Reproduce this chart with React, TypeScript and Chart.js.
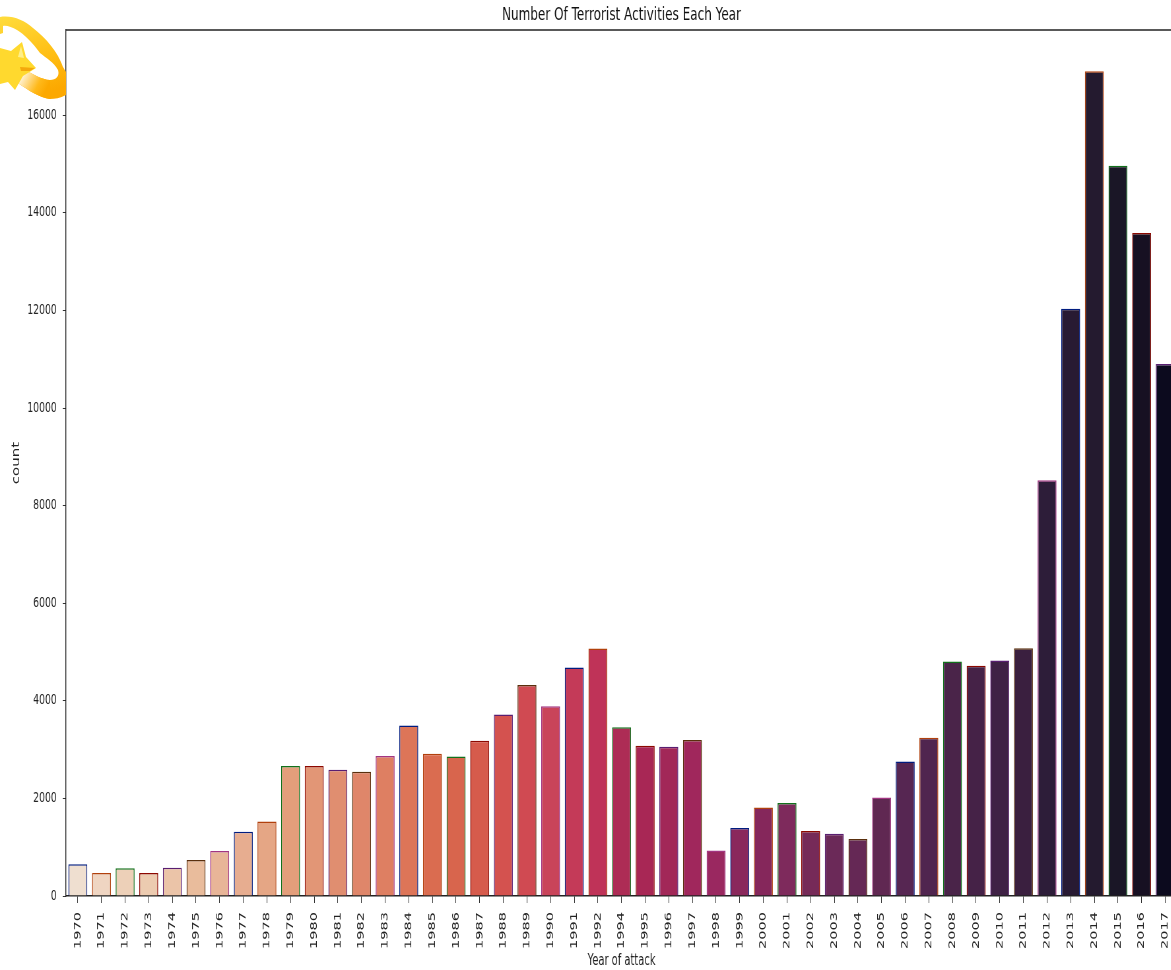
import React, { useEffect, useRef } from "react";
import { Chart, registerables } from "chart.js";

Chart.register(...registerables);

const years = ["1970","1971","1972","1973","1974","1975","1976","1977","1978","1979","1980","1981","1982","1983","1984","1985","1986","1987","1988","1989","1990","1991","1992","1994","1995","1996","1997","1998","1999","2000","2001","2002","2003","2004","2005","2006","2007","2008","2009","2010","2011","2012","2013","2014","2015","2016","2017"];
const counts = [651,471,568,473,581,740,923,1319,1526,2662,2662,2586,2544,2870,3495,2915,2860,3183,3721,4324,3887,4683,5071,3456,3081,3058,3197,931,1395,1814,1906,1333,1278,1166,2017,2758,3242,4805,4721,4826,5076,8522,12036,16903,14965,13587,10900];
const fills = ["#efdfd0","#efd5c2","#edd0b8","#eccbb0","#ebc4a8","#e9bc9c","#e8b598","#e7ad90","#e5a685","#e39e7b","#e29676","#e08e70","#df866a","#de7f62","#dd7558","#da6c50","#d8654d","#d65b4c","#d4524f","#d04a52","#c9445a","#c43a58","#bf3358","#ad2c55","#a82755","#a22858","#a0275c","#9a2860","#8a285c","#85275b","#7e2a5c","#762a58","#6b2958","#652855","#602852","#562652","#50254f","#4a2449","#452247","#3f2145","#3a1f3f","#2d1d39","#281a33","#241a2f","#1a1626","#171022","#0c0a1e"];
const edgeCycle = ["#001c7f","#b1400d","#12711c","#8c0800","#591e71","#592f0d","#a23582"];
const edges = years.map((_, i) => edgeCycle[i % edgeCycle.length]);
const yTicks = [0,2000,4000,6000,8000,10000,12000,14000,16000];

const SQUEEZE = 0.66;
const INNER_W = 1792;
const INNER_H = 970;

const frameLines = {
  id: "frameLines",
  afterDraw(chart: any) {
    const { ctx, chartArea: a } = chart;
    ctx.save();
    ctx.strokeStyle = "#222";
    ctx.lineWidth = 1.4;
    ctx.beginPath();
    ctx.moveTo(a.left, a.top);
    ctx.lineTo(a.right, a.top);
    ctx.stroke();
    ctx.restore();
  },
};

export default function App() {
  const ref = useRef<HTMLCanvasElement>(null);
  useEffect(() => {
    const chart = new Chart(ref.current as HTMLCanvasElement, {
      type: "bar",
      data: {
        labels: years,
        datasets: [{ data: counts, backgroundColor: fills, borderColor: edges, borderWidth: 1.5, categoryPercentage: 1, barPercentage: 0.8 }],
      },
      plugins: [frameLines],
      options: {
        responsive: false,
        animation: false,
        devicePixelRatio: 1,
        layout: { padding: 0, autoPadding: false },
        plugins: {
          legend: { display: false },
          tooltip: { enabled: false },
          title: {
            display: true,
            fullSize: false,
            text: "Number Of Terrorist Activities Each Year",
            color: "#111",
            font: { family: "DejaVu Sans", size: 18.2, weight: "normal" },
            padding: { top: 4.5, bottom: 3.7 },
          },
        },
        scales: {
          x: {
            grid: { display: true, drawOnChartArea: false, offset: false, tickLength: 7, color: "#333", tickColor: "#333" },
            border: { color: "#222", width: 1.4 },
            ticks: { minRotation: 90, maxRotation: 90, autoSkip: false, color: "#222", padding: 9, font: { family: "DejaVu Sans", size: 14.5 } },
            title: { display: true, text: "Year of attack", color: "#222", padding: { top: 0, bottom: 0 }, font: { family: "DejaVu Sans", size: 15 } },
            afterFit(s: any) { s.height = 74; },
          },
          y: {
            min: 0,
            max: 17746,
            grid: { display: true, drawOnChartArea: false, tickLength: 5, color: "#333", tickColor: "#333" },
            border: { color: "#222", width: 1.4 },
            afterBuildTicks(s: any) { s.ticks = yTicks.map((value) => ({ value })); },
            ticks: { color: "#222", padding: 9, font: { family: "DejaVu Sans", size: 14 }, callback: (v: any) => String(v) },
            title: { display: true, text: "count", color: "#222", padding: { top: 16, bottom: 0 }, font: { family: "DejaVu Sans", size: 15 } },
            afterFit(s: any) { s.width = 100; },
          },
        },
      },
    } as any);
    return () => chart.destroy();
  }, []);

  return (
    <div style={{ position: "fixed", left: 0, top: 0, width: 1171, height: 970, overflow: "hidden", background: "#fff" }}>
      <canvas
        ref={ref}
        width={INNER_W}
        height={INNER_H}
        style={{ position: "absolute", left: 0, top: 0, width: INNER_W, height: INNER_H, transformOrigin: "0 0", transform: `scaleX(${SQUEEZE})` }}
      />
      <svg width={66} height={110} style={{ position: "absolute", left: 0, top: 0 }}>
        <defs>
          <linearGradient id="ring" gradientUnits="userSpaceOnUse" x1="0" y1="17" x2="30" y2="99">
            <stop offset="0" stopColor="#ffdc3c" />
            <stop offset="0.6" stopColor="#ffbe14" />
            <stop offset="1" stopColor="#fca800" />
          </linearGradient>
          <linearGradient id="trail" gradientUnits="userSpaceOnUse" x1="18" y1="75" x2="46" y2="90">
            <stop offset="0" stopColor="#ffffff" />
            <stop offset="0.7" stopColor="#ffb91a" />
            <stop offset="1" stopColor="#fca800" />
          </linearGradient>
        </defs>
        <path d="M0 17 C12 15 24 20 33 28 C46 38 58 52 63 67 L66 72 L66 95 C60 98 55 99 50 99 C40 98 28 90 18 83 L24 70 C32 73 42 80 50 80 C56 80 60 76 58 70 C54 62 46 58 40 53 C32 42 24 34 17 30 C12 27 6 25 3 26 L3 33 L0 34 Z" fill="url(#ring)" />
        <path d="M18 83 L24 70 C32 73 42 80 50 80 L50 99 C40 98 28 90 18 83 Z" fill="url(#trail)" />
        <path d="M22 42 L26 57 L36 68 L23 76 L15 90 L8 82 L0 84 L0 48 L11 51 Z" fill="#ffd92e" />
        <path d="M21 46 L24 58 L18 57 Z" fill="#ffef8a" />
        <path d="M20 67 L35 68 L30 71 L21 71 Z" fill="#f4a80c" />
      </svg>
    </div>
  );
}
